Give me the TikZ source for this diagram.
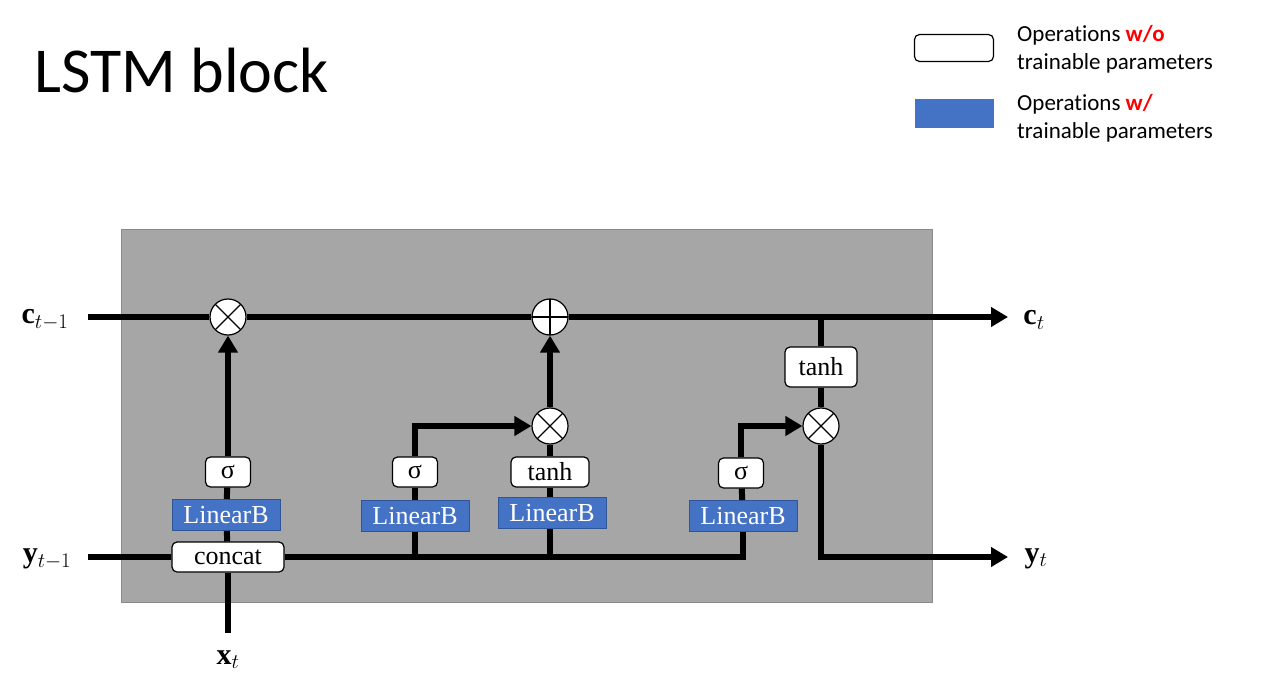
\documentclass[tikz,border=0pt]{standalone}
\usepackage{amsmath}
\usepackage{fontspec}
\setmainfont{Liberation Serif}
\newfontfamily\keyfont{Carlito}[Ligatures=NoCommon]
\usetikzlibrary{arrows.meta}
\definecolor{boxgray}{HTML}{A6A6A6}
\definecolor{boxedge}{HTML}{8A8A8A}
\definecolor{linblue}{HTML}{4472C4}
\definecolor{linedge}{HTML}{2F5597}
\definecolor{keyred}{HTML}{FF0000}

\begin{document}
\begin{tikzpicture}[x=1pt, y=-1pt,
    wire/.style={line width=6pt},
    flow/.style={line width=6pt, -{Triangle[length=17pt,width=19pt]}},
    op/.style={draw, line width=1.2pt, fill=white, rounded corners=5pt, minimum height=30pt, inner sep=0pt, font=\fontsize{26}{28}\selectfont},
    lin/.style={draw=linedge, line width=1pt, fill=linblue, text=white, minimum height=31pt, minimum width=108pt, inner sep=0pt, font=\fontsize{26}{28}\selectfont},
    mult/.style={circle, draw, line width=1.2pt, fill=white, minimum size=36pt, inner sep=0pt,
        path picture={\draw[line width=1.2pt] (path picture bounding box.north west) -- (path picture bounding box.south east)
            (path picture bounding box.north east) -- (path picture bounding box.south west);}},
    add/.style={circle, draw, line width=1.2pt, fill=white, minimum size=36pt, inner sep=0pt,
        path picture={\draw[line width=1.2pt] (path picture bounding box.north) -- (path picture bounding box.south)
            (path picture bounding box.west) -- (path picture bounding box.east);}},
    var/.style={font=\fontsize{30}{32}\selectfont}]
\useasboundingbox (0,0) rectangle (1269,679);

% title and key
\node[anchor=base west, font=\keyfont\fontsize{64}{70}\selectfont] (title) at (31,93) {LSTM block};
\node[op, minimum width=79pt, minimum height=27pt] (keyop) at (954,48) {};
\node[fill=linblue, minimum width=79pt, minimum height=29pt, inner sep=0pt] (keylin) at (954,114) {};
\node[anchor=base west, align=left, inner sep=0pt, font=\keyfont\fontsize{23}{28}\selectfont] (keyoptxt) at (1017,70)
    {Operations \textcolor{keyred}{\textbf{w/o}}\\trainable parameters};
\node[anchor=base west, align=left, inner sep=0pt, font=\keyfont\fontsize{23}{28}\selectfont] (keylintxt) at (1017,139)
    {Operations \textcolor{keyred}{\textbf{w/}}\\trainable parameters};

% block
\filldraw[fill=boxgray, draw=boxedge, line width=1pt] (121,230) rectangle (932,602);

% operations
\node[mult] (mul1) at (228,317) {};
\node[add] (plus) at (550,317) {};
\node[mult] (mul2) at (550,426) {};
\node[mult] (mul3) at (821,426) {};
\node[op, minimum width=112pt] (concat) at (228,557) {concat};
\node[lin] (lin1) at (226,515) {LinearB};
\node[op, minimum width=45pt] (sig1) at (228,472) {σ};
\node[lin] (lin2) at (415,516) {LinearB};
\node[op, minimum width=45pt] (sig2) at (415,472) {σ};
\node[lin] (lin3) at (552,513) {LinearB};
\node[op, minimum width=78pt] (tanh2) at (550,472) {tanh};
\node[lin] (lin4) at (743,516) {LinearB};
\node[op, minimum width=45pt] (sig4) at (741,473) {σ};
\node[op, minimum width=72pt, minimum height=40pt] (tanh3) at (821,367) {tanh};

% inputs and outputs
\node[var] (lcin) at (45,320) {$\mathbf{c}_{t-1}$};
\node[var] (lyin) at (47,559) {$\mathbf{y}_{t-1}$};
\node[var] (lxin) at (228,660) {$\mathbf{x}_{t}$};
\node[var] (lcout) at (1034,320) {$\mathbf{c}_{t}$};
\node[var] (lyout) at (1036,559) {$\mathbf{y}_{t}$};
\coordinate (cin) at (88,317);
\coordinate (yin) at (88,557);
\coordinate (xin) at (228,633);
\coordinate (cout) at (1008,317);
\coordinate (yout) at (1008,557);
\coordinate (j2) at (415,557);
\coordinate (j3) at (550,557);
\coordinate (jc) at (821,317);

% cell line
\draw[wire] (cin) -- (mul1);
\draw[wire] (mul1) -- (plus);
\draw[flow] (plus) -- (cout);
\draw[wire] (jc) -- (tanh3);
\draw[wire] (tanh3) -- (mul3);
\draw[flow] (mul3) |- (yout);

% input line
\draw[wire] (yin) -- (concat);
\draw[wire] (xin) -- (concat);
\draw[wire] (concat) -| (lin4);
\draw[wire] (concat) -- (lin1);
\draw[wire] (lin1) -- (sig1);
\draw[flow] (sig1) -- (mul1);
\draw[wire] (j2) -- (lin2);
\draw[wire] (lin2) -- (sig2);
\draw[flow] (sig2) |- (mul2);
\draw[wire] (j3) -- (j3 |- lin3.south);
\draw[wire] (j3 |- lin3.north) -- (tanh2);
\draw[wire] (tanh2) -- (mul2);
\draw[flow] (mul2) -- (plus);
\draw[wire] (lin4) -- (sig4);
\draw[flow] (sig4) |- (mul3);
\end{tikzpicture}
\end{document}
